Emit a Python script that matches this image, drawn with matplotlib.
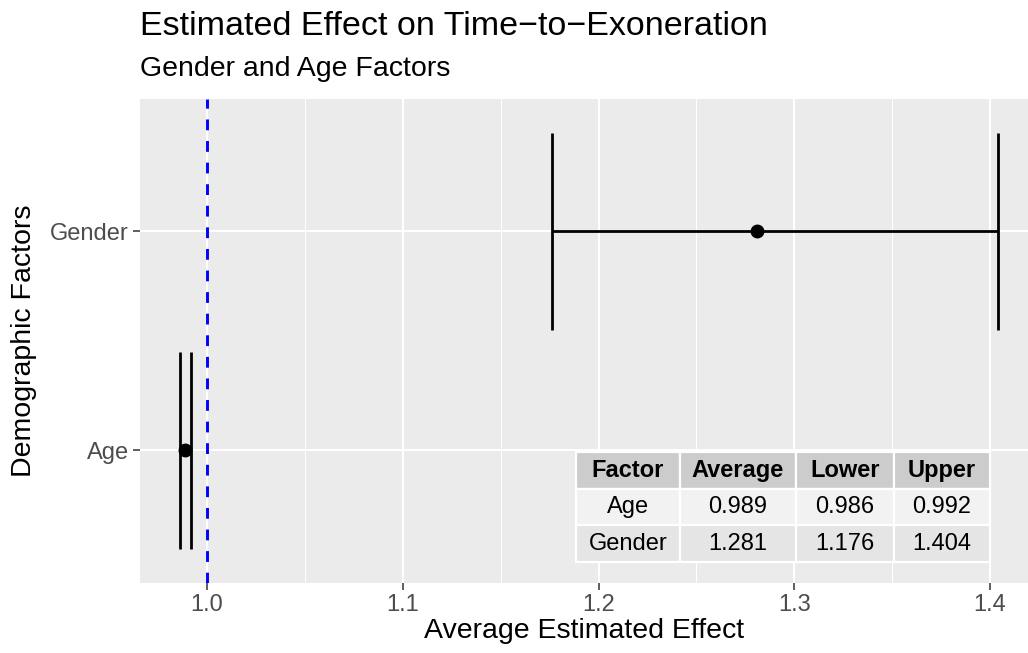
import numpy as np
from matplotlib import pyplot as plt

plt.rcParams["font.family"] = ["Liberation Sans", "DejaVu Sans"]

factors = ["Age", "Gender"]
average = [0.989, 1.281]
lower = [0.986, 1.176]
upper = [0.992, 1.404]
x_ticks = [1.0, 1.1, 1.2, 1.3, 1.4]
x_minor = [1.05, 1.15, 1.25, 1.35]
ref_line = 1.0
table_cols = ["Factor", "Average", "Lower", "Upper"]

W, H = 1028, 653
fig = plt.figure(figsize=(W / 100, H / 100), dpi=100)
ax = fig.add_axes([140 / W, (H - 583) / H, 888 / W, 484 / H])
ax.set_facecolor("#EBEBEB")
for s in ax.spines.values():
    s.set_visible(False)

ypos = np.arange(len(factors)) + 1

# grid
for x in x_minor:
    ax.axvline(x, color="white", lw=0.75, zorder=0)
for x in x_ticks:
    ax.axvline(x, color="white", lw=1.5, zorder=0)
for y in ypos:
    ax.axhline(y, color="white", lw=1.5, zorder=0)

ax.axvline(ref_line, color="#0000FF", lw=2.1, ls=(0, (3.7, 3.7)), zorder=2)

# error bars ggplot-style
half = 0.45
ax.hlines(ypos, lower, upper, color="black", lw=2.0, zorder=3)
ax.vlines(lower, ypos - half, ypos + half, color="black", lw=2.0, zorder=3)
ax.vlines(upper, ypos - half, ypos + half, color="black", lw=2.0, zorder=3)
ax.plot(average, ypos, "o", color="black", ms=9, zorder=4)

ax.set_xlim(0.96577, 1.41941)
ax.set_ylim(0.393, 2.603)
ax.set_xticks(x_ticks)
ax.set_xticklabels(["%.1f" % x for x in x_ticks])
ax.set_yticks(ypos)
ax.set_yticklabels(factors)
ax.tick_params(axis="both", length=5, width=1.1, color="#333333",
               labelcolor="#4D4D4D", labelsize=17, pad=3)

# table
cells = [[f, "%.3f" % a, "%.3f" % l, "%.3f" % u]
         for f, a, l, u in zip(factors, average, lower, upper)]
tab = ax.table(cellText=cells, colLabels=table_cols, cellLoc="center",
               colWidths=[102, 115, 96, 95],
               bbox=[(576 - 140) / 888, (583 - 562) / 484, (990 - 576) / 888, (562 - 452) / 484])
tab.auto_set_font_size(False)
tab.set_fontsize(17)
tab.set_zorder(5)
row_fill = ["#CCCCCC", "#F2F2F2", "#E5E5E5"]
for (r, c), cell in tab.get_celld().items():
    cell.set_facecolor(row_fill[r])
    cell.set_edgecolor("white")
    cell.set_linewidth(1.6)
    if r == 0:
        cell.get_text().set_fontweight("bold")

# titles
fig.text(140 / W, 1 - 35 / H, "Estimated Effect on Time\u2212to\u2212Exoneration",
         fontsize=24.5, ha="left", va="baseline")
fig.text(140 / W, 1 - 76 / H, "Gender and Age Factors",
         fontsize=20.5, ha="left", va="baseline")
fig.text(584 / W, 1 - 638 / H, "Average Estimated Effect",
         fontsize=20.5, ha="center", va="baseline")
fig.text(24 / W, 1 - 341 / H, "Demographic Factors", rotation=90,
         fontsize=20.5, ha="center", va="center")

fig.savefig("out.png", dpi=100)
